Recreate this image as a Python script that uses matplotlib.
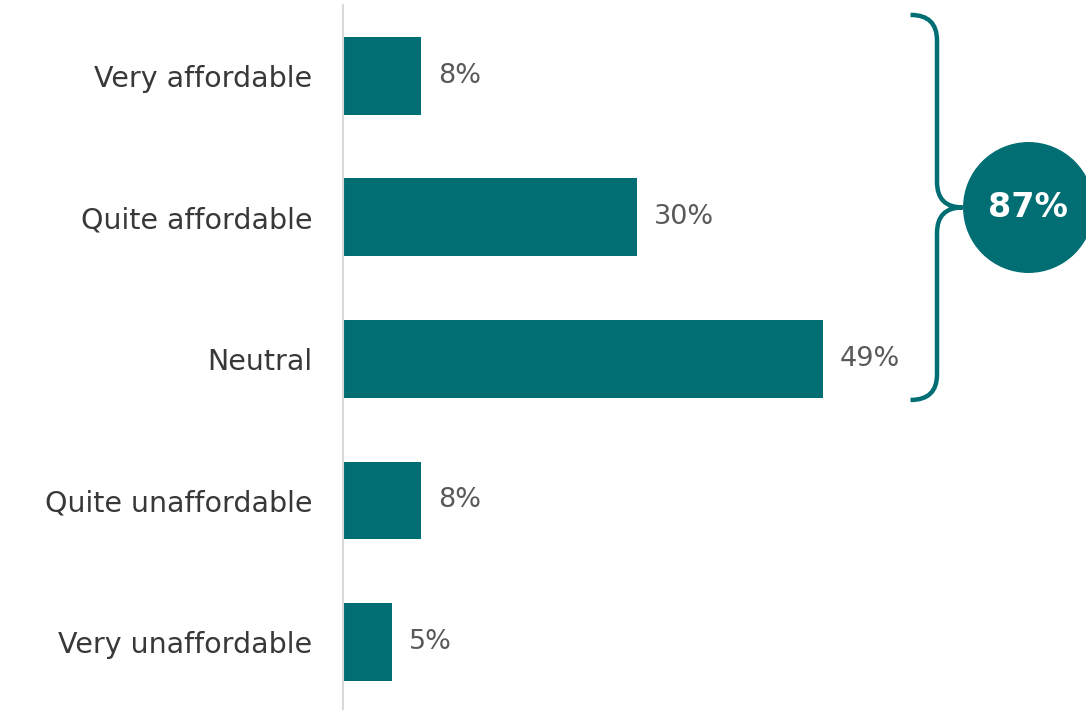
import matplotlib
matplotlib.use('Agg')

import matplotlib.pyplot as plt
from matplotlib.path import Path
from matplotlib.patches import PathPatch

# Survey answers, top to bottom
categories = ["Very affordable", "Quite affordable", "Neutral",
              "Quite unaffordable", "Very unaffordable"]
values = [8, 30, 49, 8, 5]
value_labels = ["8%", "30%", "49%", "8%", "5%"]

# The first three answers are grouped by the brace
grouped = 3

teal = "#006E73"
label_col = "#383838"
value_col = "#595959"
font = ["DejaVu Sans"]

fig = plt.figure(figsize=(10.86, 7.10), dpi=100)
ax = fig.add_axes([343 / 1086, 0.0, 1 - 343 / 1086, 705 / 710])

pos = list(range(len(categories)))
ax.barh(pos, values, height=0.55, color=teal)

for p, v, lab in zip(pos, values, value_labels):
    ax.annotate(lab, (v, p), xytext=(12, 0), textcoords='offset points',
                ha='left', va='center', fontsize=19.5, color=value_col,
                family=font)

ax.set_yticks(pos)
ax.set_yticklabels(categories, fontsize=20.5, color=label_col, family=font)
ax.tick_params(axis='y', length=0, pad=22)
ax.set_xticks([])

ax.set_xlim(0, 75.8)
ax.set_ylim(4.48, -0.50)

for side in ['top', 'right', 'bottom']:
    ax.spines[side].set_visible(False)
ax.spines['left'].set_color("#d9d9d9")
ax.spines['left'].set_linewidth(1.5)

# Curly brace round the grouped answers
y_top = -0.43
y_bot = grouped - 1 + 0.29
y_mid = (y_top + y_bot) / 2
x0, x1, x2 = 57.9, 60.6, 63.2
ry = 0.18
verts = [
    (x0, y_top), (x1, y_top), (x1, y_top + ry),
    (x1, y_mid - ry),
    (x1, y_mid), (x2, y_mid),
    # second half restarts at the tip so the point stays sharp
    (x2, y_mid), (x1, y_mid), (x1, y_mid + ry),
    (x1, y_bot - ry),
    (x1, y_bot), (x0, y_bot),
]
codes = [Path.MOVETO, Path.CURVE3, Path.CURVE3,
         Path.LINETO,
         Path.CURVE3, Path.CURVE3,
         Path.MOVETO, Path.CURVE3, Path.CURVE3,
         Path.LINETO,
         Path.CURVE3, Path.CURVE3]
brace = PathPatch(Path(verts, codes), facecolor='none', edgecolor=teal,
                  lw=3.2, capstyle='butt', clip_on=False)
ax.add_patch(brace)

# Circle with the grouped total
total = sum(values[:grouped])
ax.scatter([69.9], [y_mid], s=8700, color=teal, clip_on=False, zorder=3)
ax.text(69.9, y_mid, f"{total}%", ha='center', va='center', fontsize=24,
        fontweight='bold', color='white', family=font, zorder=4)

plt.savefig("out.png", dpi=100)
